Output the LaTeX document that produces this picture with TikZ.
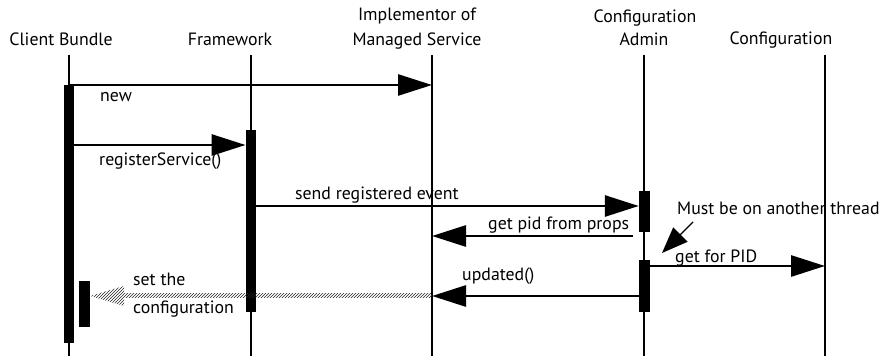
\documentclass[tikz,border=0pt]{standalone}
\usepackage{fontspec}
\setmainfont{PT Sans}
\usetikzlibrary{arrows.meta,patterns}
\begin{document}
\begin{tikzpicture}[x=1pt,y=-1pt,
  life/.style={line width=2.8pt},
  actbar/.style={fill=black,draw=none,inner sep=0pt,minimum width=10.5pt},
  msg/.style={line width=2.8pt,-{Triangle[length=34pt,width=21pt]}},
  note/.style={line width=1.4pt,-{Triangle[length=26pt,width=20pt]}},
  head/.style={font=\fontsize{17.8}{20}\selectfont,inner sep=0pt,anchor=base,align=center},
  lbl/.style={font=\fontsize{17.8}{20}\selectfont,inner sep=0pt,anchor=base west,align=left},
  hatch/.style={draw=none,pattern=north east lines,pattern color=black!85}]
\useasboundingbox (0,0) rectangle (884,358);
% headers
\node[head] (hcb) at (61,46) {Client Bundle};
\node[head] (hfw) at (230,46) {Framework};
\node[head] (him1) at (417,21) {Implementor of};
\node[head] (him) at (417,46) {Managed Service};
\node[head] (hca1) at (645,23) {Configuration};
\node[head] (hca) at (644,46) {Admin};
\node[head] (hcf) at (781,45) {Configuration};
% lifelines
\coordinate (cbT) at (69,55);  \coordinate (cbB) at (69,356);
\coordinate (fwT) at (251,55); \coordinate (fwB) at (251,356);
\coordinate (imT) at (432,55); \coordinate (imB) at (432,356);
\coordinate (caT) at (644,55); \coordinate (caB) at (644,356);
\coordinate (cfT) at (825,55); \coordinate (cfB) at (825,356);
\foreach \l in {cb,fw,im,ca,cf} \draw[life] (\l T) -- (\l B);
% activation bars
\node[actbar,minimum height=258pt] (cbBar) at (69,214) {};
\node[actbar,minimum height=46pt,minimum width=11pt] (cbBar2) at (84.5,304) {};
\node[actbar,minimum height=182pt] (fwBar) at (251,221) {};
\node[actbar,minimum height=41pt,minimum width=11pt] (caBar1) at (644.5,211.5) {};
\node[actbar,minimum height=52pt,minimum width=11pt] (caBar2) at (644.5,286) {};
% messages
\coordinate (m1s) at (69,85);   \coordinate (m1e) at (432,85);
\draw[msg] (m1s) -- (m1e);
\node[lbl] (l1) at (100,102) {new};
\draw[msg] (cbBar.east |- 0,145) -- (fwBar.west |- 0,145);
\node[lbl] (l2) at (99,166) {registerService()};
\draw[msg] (fwBar.east |- 0,206) -- (caBar1.west |- 0,206);
\node[lbl] (l3) at (295,200) {send registered event};
\coordinate (m4s) at (633,236); \coordinate (m4e) at (432,236);
\draw[msg] (m4s) -- (m4e);
\node[lbl] (l4) at (488,230) {get pid from props};
\coordinate (m5e) at (825,266);
\draw[msg] (caBar2.east |- 0,266) -- (m5e);
\node[lbl] (l5) at (675,262) {get for PID};
\coordinate (m6e) at (432,296);
\draw[msg] (caBar2.west |- 0,296) -- (m6e);
\node[lbl] (l6) at (462,281) {updated()};
% note
\node[lbl] (n1) at (677,215) {Must be on another thread};
\coordinate (ns) at (693,222); \coordinate (ne) at (662,253);
\draw[note] (ns) -- (ne);
% hatched return
\coordinate (h1) at (432,296); \coordinate (h2) at (cbBar2.east |- 0,296);
\fill[hatch] (124,294) rectangle (h1 |- 0,298);
\fill[hatch] (h2) -- (124,286) -- (124,306) -- cycle;
\node[lbl] (l7a) at (133,286) {set the};
\node[lbl] (l7b) at (133,313) {configuration};
\end{tikzpicture}
\end{document}
